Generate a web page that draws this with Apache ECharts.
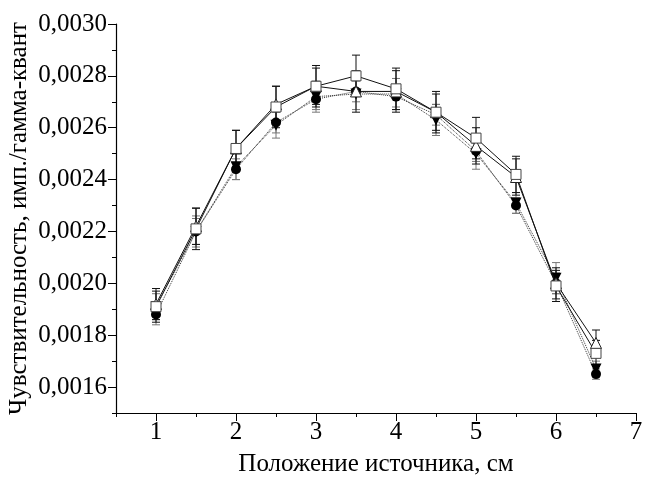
<!DOCTYPE html>
<html>
<head>
<meta charset="utf-8">
<script src="https://cdn.jsdelivr.net/npm/echarts@6/dist/echarts.min.js"></script>
<style>
  html, body { margin: 0; padding: 0; background: #fff; }
  #chart { width: 645px; height: 480px; }
</style>
</head>
<body>
<div id="chart"></div>
<script>
// положение источника, см
const positions = [1, 1.5, 2, 2.5, 3, 3.5, 4, 4.5, 5, 5.5, 6, 6.5]

// чувствительность (4 серии) и погрешности
const squareVals = [0.00191, 0.00221, 0.00252, 0.00268, 0.00276, 0.00280, 0.00275, 0.00266, 0.00256, 0.00242, 0.00199, 0.00173]
const triangleVals = [0.00192, 0.00222, 0.00252, 0.00269, 0.00276, 0.00274, 0.00274, 0.00266, 0.00253, 0.00241, 0.00200, 0.00177]
const circleVals = [0.00188, 0.00220, 0.00244, 0.00262, 0.00271, 0.00274, 0.00272, 0.00265, 0.00251, 0.00230, 0.00200, 0.00165]
const downTriVals = [0.00191, 0.00220, 0.00245, 0.00261, 0.00272, 0.00273, 0.00273, 0.00263, 0.00250, 0.00231, 0.00202, 0.00167]

const squareErr = [0.00006, 0.00008, 0.00007, 0.00008, 0.00008, 0.00008, 0.00008, 0.00008, 0.00008, 0.00007, 0.00006, 0.00005]
const triangleErr = [0.00006, 0.00007, 0.00007, 0.00007, 0.00007, 0.00008, 0.00008, 0.00007, 0.00007, 0.00007, 0.00006, 0.00005]
const circleErr = [0.00004, 0.00005, 0.00004, 0.00004, 0.00004, 0.00004, 0.00004, 0.00004, 0.00004, 0.00003, 0.00004, 0.00002]
const downTriErr = [0.00005, 0.00006, 0.00005, 0.00005, 0.00006, 0.00006, 0.00006, 0.00006, 0.00006, 0.00004, 0.00006, 0.00003]

// деления осей
const xMajorTicks = [1, 2, 3, 4, 5, 6, 7]
const xMinorTicks = [0.5, 1.5, 2.5, 3.5, 4.5, 5.5, 6.5]
const yMajorTicks = [0.0016, 0.0018, 0.0020, 0.0022, 0.0024, 0.0026, 0.0028, 0.0030]
const yMinorTicks = [0.0015, 0.0017, 0.0019, 0.0021, 0.0023, 0.0025, 0.0027, 0.0029]

const FONT = 'Liberation Serif'
const FS = 25

const pairs = (vals) => positions.map((x, i) => [x, vals[i]])
const errData = (vals, errs) => positions.map((x, i) => [x, vals[i] - errs[i], vals[i] + errs[i]])

// усы погрешностей
const errorSeries = (vals, errs, color) => ({
  type: 'custom',
  xAxisIndex: 0,
  yAxisIndex: 0,
  silent: true,
  z: 1,
  data: errData(vals, errs),
  renderItem: function (params, api) {
    const lo = api.coord([api.value(0), api.value(1)])
    const hi = api.coord([api.value(0), api.value(2)])
    const w = 4
    const style = { stroke: color, lineWidth: 1 }
    return {
      type: 'group',
      children: [
        { type: 'line', shape: { x1: hi[0], y1: hi[1], x2: lo[0], y2: lo[1] }, style },
        { type: 'line', shape: { x1: hi[0] - w, y1: hi[1], x2: hi[0] + w, y2: hi[1] }, style },
        { type: 'line', shape: { x1: lo[0] - w, y1: lo[1], x2: lo[0] + w, y2: lo[1] }, style }
      ]
    }
  }
})

const chart = echarts.init(document.getElementById('chart'))

const option = {
  animation: false,
  textStyle: { fontFamily: FONT },
  grid: { left: 116, right: 9, top: 24, bottom: 67, containLabel: false, outerBoundsMode: 'none' },
  xAxis: [
    {
      type: 'value',
      min: 0.5,
      max: 7,
      name: 'Положение источника, см',
      nameLocation: 'middle',
      nameGap: 39,
      nameMoveOverlap: false,
      nameTextStyle: { fontFamily: FONT, fontSize: FS, color: '#000' },
      axisLine: { lineStyle: { color: '#000', width: 1.2 } },
      axisTick: { show: true, inside: false, length: 8, customValues: xMajorTicks, lineStyle: { color: '#000' } },
      axisLabel: { customValues: xMajorTicks, fontFamily: FONT, fontSize: FS, color: '#000', margin: 7 },
      splitLine: { show: false }
    },
    {
      type: 'value',
      min: 0.5,
      max: 7,
      position: 'bottom',
      axisLine: { show: false },
      axisTick: { show: true, inside: false, length: 4, customValues: xMinorTicks, lineStyle: { color: '#000' } },
      axisLabel: { show: false },
      splitLine: { show: false }
    }
  ],
  yAxis: [
    {
      type: 'value',
      min: 0.0015,
      max: 0.0030,
      name: 'Чувствительность, имп./гамма-квант',
      nameLocation: 'middle',
      nameGap: 84,
      nameMoveOverlap: false,
      nameTextStyle: { fontFamily: FONT, fontSize: FS, color: '#000' },
      axisLine: { show: true, lineStyle: { color: '#000', width: 1.2 } },
      axisTick: { show: true, inside: false, length: 8, customValues: yMajorTicks, lineStyle: { color: '#000' } },
      axisLabel: {
        customValues: yMajorTicks,
        fontFamily: FONT,
        fontSize: FS,
        color: '#000',
        margin: 9,
        formatter: (v) => v.toFixed(4).replace('.', ',')
      },
      splitLine: { show: false }
    },
    {
      type: 'value',
      min: 0.0015,
      max: 0.0030,
      position: 'left',
      axisLine: { show: false },
      axisTick: { show: true, inside: false, length: 4, customValues: yMinorTicks, lineStyle: { color: '#000' } },
      axisLabel: { show: false },
      splitLine: { show: false }
    }
  ],
  series: [
    errorSeries(circleVals, circleErr, '#777'),
    errorSeries(downTriVals, downTriErr, '#777'),
    errorSeries(triangleVals, triangleErr, '#111'),
    errorSeries(squareVals, squareErr, '#111'),
    {
      name: 'circle',
      type: 'line',
      data: pairs(circleVals),
      symbol: 'circle',
      symbolSize: 10,
      z: 3,
      itemStyle: { color: '#000' },
      lineStyle: { color: '#333', width: 1, type: 'dotted' }
    },
    {
      name: 'downTriangle',
      type: 'line',
      data: pairs(downTriVals),
      symbol: 'triangle',
      symbolRotate: 180,
      symbolSize: 11,
      z: 3,
      itemStyle: { color: '#000' },
      lineStyle: { color: '#333', width: 1, type: 'dotted' }
    },
    {
      name: 'triangle',
      type: 'line',
      data: pairs(triangleVals),
      symbol: 'triangle',
      symbolSize: 11,
      z: 4,
      itemStyle: { color: '#fff', borderColor: '#222', borderWidth: 1 },
      lineStyle: { color: '#111', width: 1 }
    },
    {
      name: 'square',
      type: 'line',
      data: pairs(squareVals),
      symbol: 'rect',
      symbolSize: 10,
      z: 4,
      itemStyle: { color: '#fff', borderColor: '#444', borderWidth: 1 },
      lineStyle: { color: '#111', width: 1 }
    }
  ]
}

chart.setOption(option)
</script>
</body>
</html>
